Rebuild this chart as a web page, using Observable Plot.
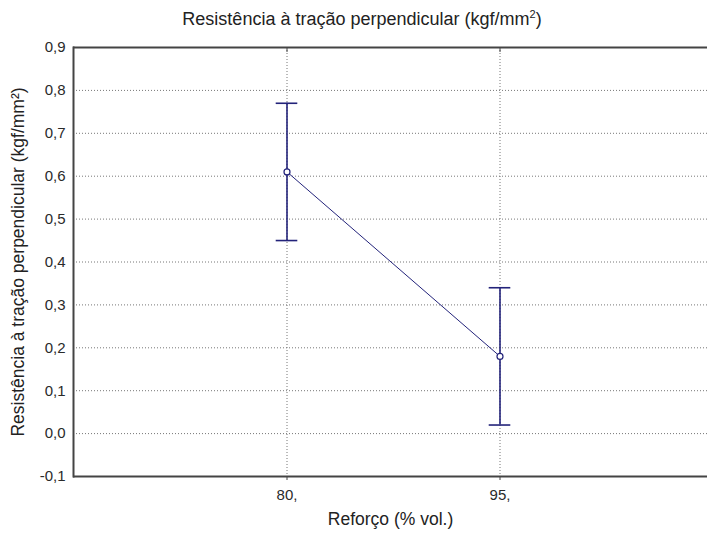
<!DOCTYPE html>
<html>
<head>
<meta charset="utf-8">
<script src="https://cdn.jsdelivr.net/npm/d3@7"></script>
<script src="https://cdn.jsdelivr.net/npm/@observablehq/plot@0.6"></script>
<style>
  html, body { margin: 0; padding: 0; background: #fff; }
  body { width: 707px; height: 534px; overflow: hidden; font-family: "Liberation Sans", Arial, sans-serif; }
  #title { position: relative; height: 32px; }
  #title span { position: absolute; left: 362px; top: 8px; transform: translateX(-50%); font-size: 18px; color: #222; white-space: nowrap; }
  #title sup { font-size: 11px; }
</style>
</head>
<body>
<div id="title"><span>Resistência à tração perpendicular (kgf/mm<sup>2</sup>)</span></div>
<div id="chart"></div>
<script>
const categories = ["80,", "95,"];
const means = [0.61, 0.18];
const lower = [0.45, 0.02];
const upper = [0.77, 0.34];
const yTicks = [-0.1, 0.0, 0.1, 0.2, 0.3, 0.4, 0.5, 0.6, 0.7, 0.8, 0.9];
const xLabel = "Reforço (% vol.)";
const yLabel = "Resistência à tração perpendicular (kgf/mm²)";

const data = categories.map((c, i) => ({cat: c, mean: means[i], lo: lower[i], hi: upper[i]}));
const navy = "#23237a";
const fmt = d => d.toFixed(1).replace(".", ",");

const chart = Plot.plot({
  width: 707,
  height: 502,
  marginTop: 15,
  marginBottom: 58,
  marginLeft: 73,
  marginRight: 0,
  style: {fontFamily: "Liberation Sans, Arial, sans-serif", fontSize: "15px", color: "#222"},
  x: {type: "band", domain: categories, paddingInner: 0, paddingOuter: 0.5, range: [73, 713]},
  y: {domain: [-0.1, 0.9]},
  marks: [
    Plot.gridY(yTicks, {stroke: "#777", strokeOpacity: 1, strokeDasharray: "1,2"}),
    Plot.gridX(categories, {stroke: "#777", strokeOpacity: 1, strokeDasharray: "1,2"}),
    Plot.ruleY([0.9, -0.1], {stroke: "#444", strokeWidth: 2}),
    Plot.frame({anchor: "left", stroke: "#444", strokeWidth: 2}),
    Plot.axisY(yTicks, {tickSize: 0, tickPadding: 8, tickFormat: fmt, label: null, fontSize: 15, fill: "#2a2a2a"}),
    Plot.axisX({tickSize: 4, tickPadding: 9, label: null, fontSize: 15, stroke: "#444", fill: "#2a2a2a"}),
    Plot.axisX({anchor: "top", tickSize: -4, tickFormat: null, label: null, stroke: "#444"}),
    Plot.text([xLabel], {frameAnchor: "bottom", dy: 48, text: d => d, fontSize: 17.5, fill: "#222"}),
    Plot.text([yLabel], {frameAnchor: "left", textAnchor: "middle", dx: -55, rotate: -90, text: d => d, fontSize: 17.5, fill: "#222"}),
    Plot.ruleX(data, {x: "cat", y1: "lo", y2: "hi", stroke: navy, strokeWidth: 1.6}),
    Plot.tickY(data, {x: "cat", y: "hi", insetLeft: 95.7, insetRight: 95.7, stroke: navy, strokeWidth: 1.6}),
    Plot.tickY(data, {x: "cat", y: "lo", insetLeft: 95.7, insetRight: 95.7, stroke: navy, strokeWidth: 1.6}),
    Plot.line(data, {x: "cat", y: "mean", stroke: navy, strokeWidth: 1}),
    Plot.dot(data, {x: "cat", y: "mean", r: 3, fill: "white", stroke: navy, strokeWidth: 1.2})
  ]
});
document.getElementById("chart").appendChild(chart);
</script>
</body>
</html>
